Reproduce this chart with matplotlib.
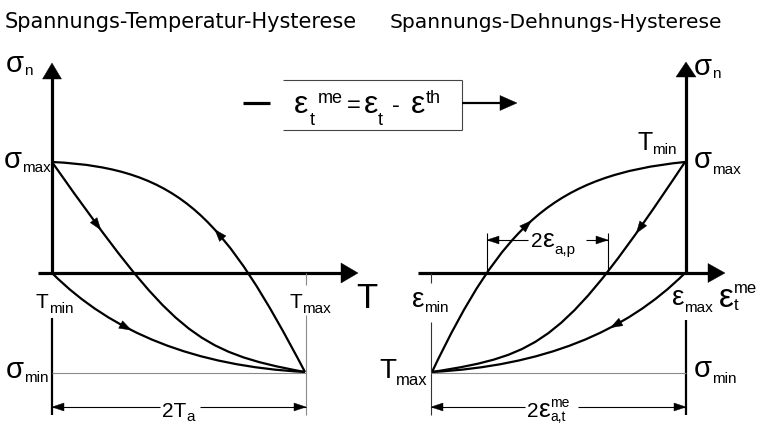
import matplotlib
matplotlib.use("Agg")
import matplotlib.pyplot as plt
from matplotlib.path import Path
from matplotlib.patches import PathPatch, Polygon
import numpy as np

# ---------------- schematic data (pixel-space coordinates of the sketch) ----------------
W, H = 760, 424

# left diagram: stress - temperature hysteresis
left_axis_x = 52          # sigma axis / T_min
left_axis_y = 273         # T axis (sigma = 0)
left_tmax_x = 306
left_sigma_max_y = 162
left_sigma_min_y = 373
left_inner_curve = [(52, 162), (172, 332), (195, 352), (305, 372)]
left_upper_curve = [(52, 162), (182, 168), (225, 220), (305, 372)]
left_lower_curve = [(52, 273), (112, 333), (195, 366), (305, 372)]
left_arrows = [(0.14, 1), (0.60, -1), (0.36, 1)]   # (bezier parameter, direction)

# right diagram: stress - strain hysteresis
right_axis_x = 686
right_axis_y = 273
right_emin_x = 431
right_sigma_max_y = 162
right_sigma_min_y = 373
right_up_curve = [(432, 372), (502, 225), (555, 175), (685, 162)]
right_inner_curve = [(685, 162), (565, 342), (542, 355), (432, 372)]
right_lower_curve = [(685, 273), (625, 333), (542, 366), (432, 372)]
right_arrows = [(0.46, 1), (0.14, 1), (0.34, 1)]
plastic_range = (487, 608)   # 2 eps_a,p

titles = ["Spannungs-Temperatur-Hysterese", "Spannungs-Dehnungs-Hysterese"]

# axis labels: (x, baseline y, groups); each group = glyphs stacked at one x:
# (text, font size, vertical offset)
left_labels = [
    (6, 72, [[("σ", 21, 0)], [("n", 11, 3)]]),
    (4, 168, [[("σ", 21, 0)], [("max", 11, 4)]]),
    (6, 378, [[("σ", 21, 0)], [("min", 11, 4)]]),
    (36, 308, [[("T", 15, 0)], [("min", 11, 5)]]),
    (289, 308, [[("T", 15, 0)], [("max", 11, 5)]]),
    (356, 308, [[("T", 25, 0)]]),
    (162, 417, [[("2T", 15, 0)], [("a", 11, 4)]]),
]
right_labels = [
    (694, 75, [[("σ", 21, 0)], [("n", 11, 3)]]),
    (637, 150, [[("T", 18, 0)], [("min", 11, 4)]]),
    (694, 168, [[("σ", 21, 0)], [("max", 11, 6)]]),
    (412, 307, [[("ε", 20, 0)], [("min", 11, 5)]]),
    (672, 305, [[("ε", 20, 0)], [("max", 11, 7)]]),
    (719, 307, [[("ε", 24, 0)], [("me", 12, -14), ("t", 12, 3)]]),
    (379, 378, [[("T", 20, 0)], [("max", 12, 7)]]),
    (694, 377, [[("σ", 21, 0)], [("min", 11, 6)]]),
    (531, 247, [[("2", 15, 0)], [("ε", 19, 0)], [("a,p", 11, 7)]]),
    (527, 417, [[("2", 15, 0)], [("ε", 19, 0)], [("me", 10, -10), ("a,t", 10, 4)]]),
]
# formula in the box: (text, x, baseline y, font size)
box_labels = [
    ("ε", 294, 113, 23), ("me", 318, 103, 13), ("t", 310, 125, 13),
    ("=", 347, 112, 17), ("ε", 364, 113, 23), ("t", 378, 125, 13),
    ("-", 392, 112, 17), ("ε", 411, 113, 23), ("th", 426, 103, 13),
]

# ---------------- drawing ----------------
fig = plt.figure(figsize=(7.6, 4.24), dpi=100)
ax = fig.add_axes([0, 0, 1, 1])
ax.set_xlim(0, W)
ax.set_ylim(H, 0)
ax.axis("off")
renderer = fig.canvas.get_renderer()

LAB = "Liberation Sans"
GRAY = "#8a8a8a"


def line(x0, y0, x1, y1, lw=0.8, color="black"):
    ax.plot([x0, x1], [y0, y1], color=color, lw=lw, solid_capstyle="butt")


def head(tip, direction, length, half, color="black"):
    d = np.asarray(direction, float)
    d = d / np.linalg.norm(d)
    n = np.array([-d[1], d[0]])
    tip = np.asarray(tip, float)
    base = tip - d * length
    ax.add_patch(Polygon([tip, base + n * half, base - n * half], closed=True,
                         fc=color, ec=color, lw=0.3))


def bez(P, t):
    P = np.asarray(P, float)
    return ((1 - t) ** 3 * P[0] + 3 * (1 - t) ** 2 * t * P[1]
            + 3 * (1 - t) * t ** 2 * P[2] + t ** 3 * P[3])


def dbez(P, t):
    P = np.asarray(P, float)
    return (3 * (1 - t) ** 2 * (P[1] - P[0]) + 6 * (1 - t) * t * (P[2] - P[1])
            + 3 * t ** 2 * (P[3] - P[2]))


def curve(P, arrow, lw=1.6):
    path = Path(P, [Path.MOVETO, Path.CURVE4, Path.CURVE4, Path.CURVE4])
    ax.add_patch(PathPatch(path, fc="none", ec="black", lw=lw))
    t, s = arrow
    p = bez(P, t)
    d = dbez(P, t) * s
    d = d / np.linalg.norm(d)
    head(p + d * 6, d, 12, 4.2)


def rich(x, y, groups):
    cx = x
    for g in groups:
        w = 0
        for txt, size, dy in g:
            t = ax.text(cx, y + dy, txt, fontsize=size, family=LAB,
                        ha="left", va="baseline", color="black")
            w = max(w, t.get_window_extent(renderer).width)
        cx += w


# titles
ax.text(5, 28, titles[0], fontsize=15, family="DejaVu Sans", va="baseline")
ax.text(390, 28, titles[1], fontsize=14.6, family="DejaVu Sans", va="baseline")

# ---- left diagram ----
lx, ly = left_axis_x, left_axis_y
line(lx, ly + 1, lx, 78, lw=2.3)
head((lx, 63), (0, -1), 16, 9.5)
line(lx, 318, lx, 415, lw=1.6)
line(38, ly, 342, ly, lw=2.3)
head((358, ly), (1, 0), 17, 10)
line(lx, left_sigma_min_y, left_tmax_x, left_sigma_min_y, color=GRAY)
line(left_tmax_x, ly, left_tmax_x, 285, color=GRAY)
line(left_tmax_x, 315, left_tmax_x, 415, color=GRAY)
line(lx, 407, 160, 407)
line(200, 407, left_tmax_x, 407)
head((lx, 407), (-1, 0), 12, 4)
head((left_tmax_x, 407), (1, 0), 12, 4)

for P, a in zip([left_inner_curve, left_upper_curve, left_lower_curve], left_arrows):
    curve(P, a)
for x, y, groups in left_labels:
    rich(x, y, groups)

# ---- middle box ----
line(283, 80, 462, 80, color="#444444")
line(283, 130, 462, 130, color="#444444")
line(462, 80, 462, 130, color="#444444")
line(243, 103, 270, 103, lw=2.3)
line(462, 103, 502, 103, lw=1.6)
head((517, 103), (1, 0), 17, 7.5)
for txt, x, y, size in box_labels:
    ax.text(x, y, txt, fontsize=size, family=LAB, ha="left", va="baseline")

# ---- right diagram ----
rx, ry = right_axis_x, right_axis_y
line(rx, ry + 1, rx, 76, lw=2.3)
head((rx, 62), (0, -1), 15, 10)
line(rx, 320, rx, 415, lw=1.6)
line(418, ry, 709, ry, lw=2.3)
head((725, ry), (1, 0), 17, 9.5)
line(right_emin_x, ry, right_emin_x, 283, color="#333333")
line(right_emin_x, 322, right_emin_x, 415, color="#333333")
line(right_emin_x, right_sigma_min_y, rx, right_sigma_min_y, color=GRAY)
line(right_emin_x, 407, 525, 407)
line(578, 407, rx, 407)
head((right_emin_x, 407), (-1, 0), 12, 4)
head((rx, 407), (1, 0), 12, 4)

p0, p1 = plastic_range
line(p0, 233, p0, ry)
line(p1, 233, p1, ry)
line(p0, 240, 528, 240)
line(586, 240, p1, 240)
head((p0, 240), (-1, 0), 12, 4)
head((p1, 240), (1, 0), 12, 4)

for P, a in zip([right_up_curve, right_inner_curve, right_lower_curve], right_arrows):
    curve(P, a)
for x, y, groups in right_labels:
    rich(x, y, groups)

fig.savefig("out.png", dpi=100)
